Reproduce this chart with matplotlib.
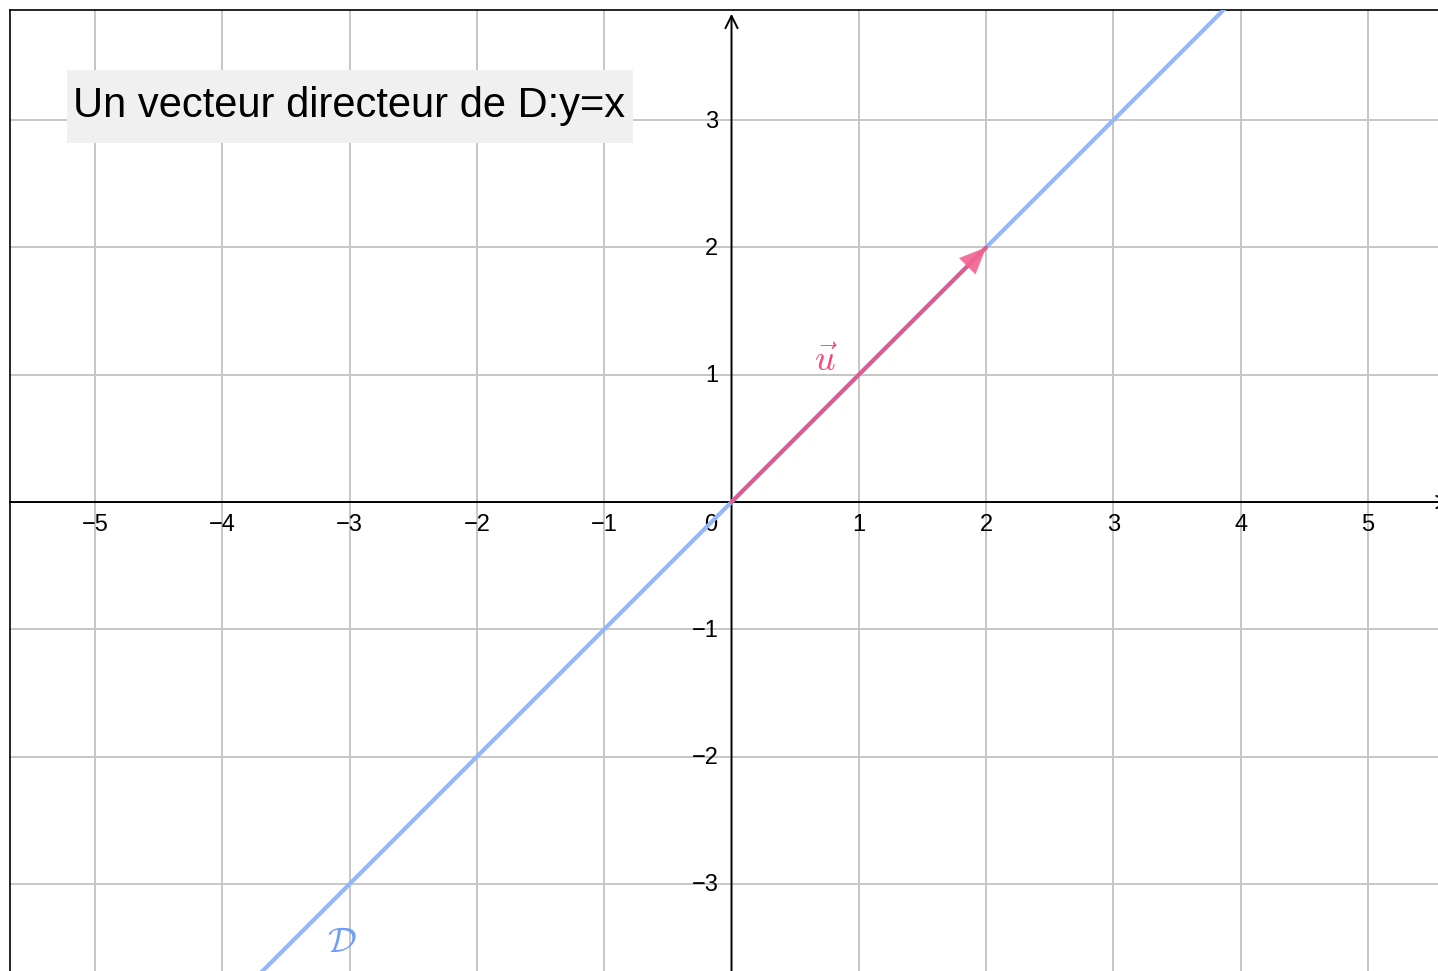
import matplotlib.pyplot as plt
from matplotlib.patches import Rectangle

# data
x_ticks = [-5, -4, -3, -2, -1, 1, 2, 3, 4, 5]
y_ticks = [-3, -2, -1, 1, 2, 3]
x_range = (-5.668, 5.55)
y_range = (-3.684, 3.865)
line_point = (0, 0)
line_slope = 1
vec_origin = (0, 0)
vec_u = (2, 2)
title = "Un vecteur directeur de D:y=x"

plt.rcParams['font.family'] = ['Liberation Sans', 'DejaVu Sans']
plt.rcParams['mathtext.fontset'] = 'cm'

fig = plt.figure(figsize=(14.38, 9.71), dpi=100)
ax = fig.add_axes([10 / 1438, 0, 1428 / 1438, 961 / 971])
ax.set_xlim(*x_range)
ax.set_ylim(*y_range)
ax.set_xticks([])
ax.set_yticks([])
for s in ["right", "bottom"]:
    ax.spines[s].set_visible(False)
for s in ["top", "left"]:
    ax.spines[s].set_linewidth(1.2)

# grid
for x in x_ticks:
    ax.axvline(x, color="#c6c6c6", lw=1.4, zorder=0)
for y in y_ticks:
    ax.axhline(y, color="#c6c6c6", lw=1.4, zorder=0)

# axes with arrows
ax.annotate("", xy=(0, y_range[1] - 0.03), xytext=(0, y_range[0]),
            arrowprops=dict(arrowstyle="->", color="black", lw=1.4,
                            mutation_scale=22, shrinkA=0, shrinkB=0),
            zorder=2, annotation_clip=False)
ax.annotate("", xy=(x_range[1] + 0.1, 0), xytext=(x_range[0], 0),
            arrowprops=dict(arrowstyle="->", color="black", lw=1.4,
                            mutation_scale=22, shrinkA=0, shrinkB=0),
            zorder=2, annotation_clip=False)

# tick labels
for x in x_ticks:
    lab = str(x).replace("-", "\u2212")
    ax.annotate(lab, (x, 0), xytext=(0, -16.5), textcoords="offset points",
                ha="center", va="center", fontsize=17)
for y in y_ticks:
    lab = str(y).replace("-", "\u2212")
    ax.annotate(lab, (0, y), xytext=(-9.5, -1), textcoords="offset points",
                ha="right", va="center", fontsize=17)
ax.annotate("0", (0, 0), xytext=(-15, -16.5), textcoords="offset points",
            ha="center", va="center", fontsize=17)

# line D
ax.axline(line_point, slope=line_slope, color="#93b7f9", lw=3, zorder=3)

# vector u
tip = (vec_origin[0] + vec_u[0], vec_origin[1] + vec_u[1])
ax.annotate("", xy=tip, xytext=vec_origin,
            arrowprops=dict(arrowstyle="-", color="#e05a8e", lw=2.8,
                            shrinkA=0, shrinkB=0), zorder=4)
ax.annotate("", xy=tip, xytext=(tip[0] - 0.25, tip[1] - 0.25),
            arrowprops=dict(arrowstyle="-|>,head_length=0.8,head_width=0.35",
                            color="#f2628f", lw=0, alpha=0.9, mutation_scale=24,
                            shrinkA=0, shrinkB=0), zorder=5)

ax.text(0.74, 1.10, r"$\vec{u}$", color="#ff4577", fontsize=26,
        ha="center", va="center", zorder=5)
ax.text(-3.06, -3.46, r"$\mathcal{D}$", color="#6f9ef8", fontsize=26,
        ha="center", va="center", zorder=5)

# title box
ax.add_patch(Rectangle((-5.22, 2.82), 4.45, 0.574, facecolor="#f0f0f0",
                       edgecolor="none", zorder=6))
ax.text(-5.17, 3.11, title, fontsize=30, ha="left", va="center", zorder=7)

fig.savefig("out.png", dpi=100)
